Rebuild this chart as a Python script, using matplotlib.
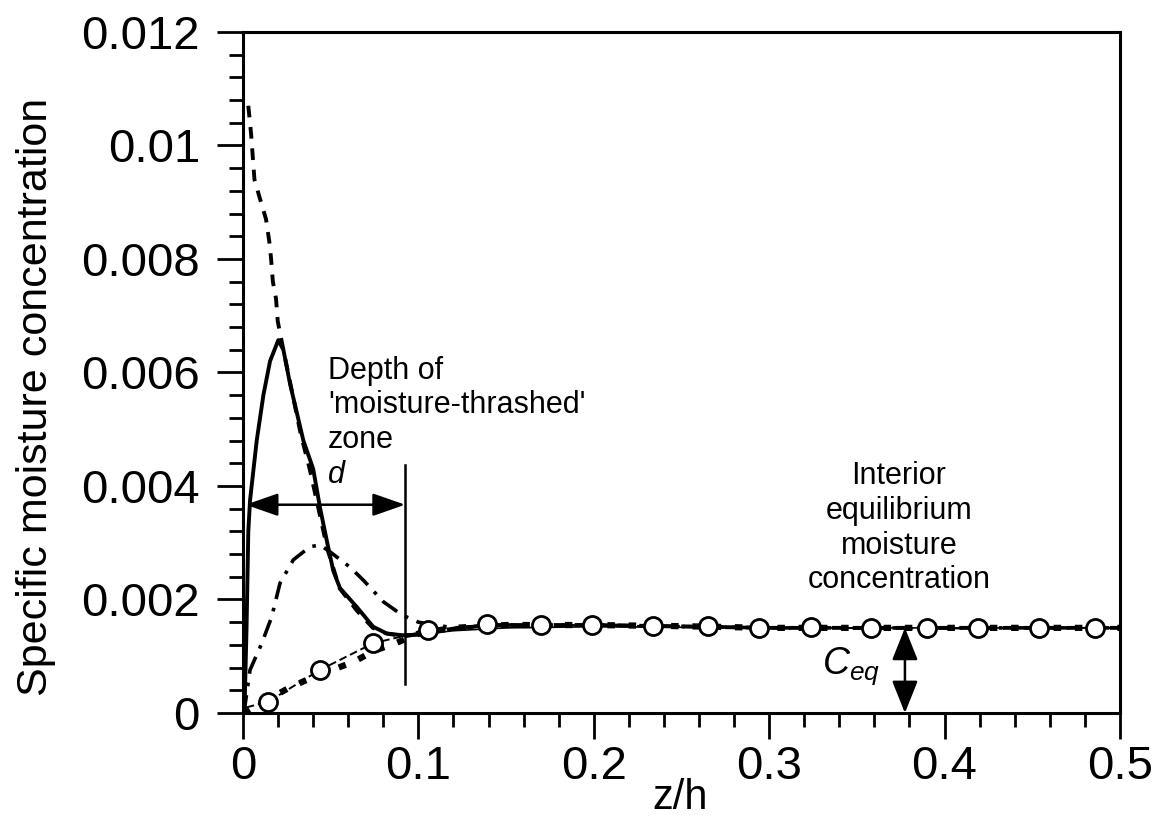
import numpy as np
import matplotlib
matplotlib.use("Agg")
import matplotlib.pyplot as plt

plt.rcParams['font.family'] = ['Liberation Sans', 'DejaVu Sans']
plt.rcParams['mathtext.fontset'] = 'custom'
plt.rcParams['mathtext.rm'] = 'Liberation Sans'
plt.rcParams['mathtext.it'] = 'Liberation Sans:italic'

# short-dashed curve (high near wall)
z_dash = [0.003, 0.0046, 0.0065, 0.0093, 0.0131, 0.015, 0.016, 0.017, 0.0188, 0.0198,
          0.0217, 0.025, 0.029, 0.033, 0.038, 0.043, 0.048, 0.055, 0.065, 0.074,
          0.082, 0.092, 0.11, 0.14, 0.2, 0.3, 0.4, 0.5]
c_dash = [0.0107, 0.0102, 0.0094, 0.0091, 0.0087, 0.0083, 0.0080, 0.0076, 0.0073, 0.0069,
          0.0066, 0.0061, 0.0055, 0.0049, 0.0043, 0.0036, 0.0029, 0.0022, 0.0018, 0.0015,
          0.0014, 0.00135, 0.00145, 0.00155, 0.00155, 0.0015, 0.0015, 0.0015]

# solid curve
z_solid = [0.0008, 0.002, 0.003, 0.004, 0.0078, 0.0116, 0.0154, 0.0201, 0.023, 0.0268,
           0.0306, 0.0344, 0.040, 0.044, 0.048, 0.0515, 0.0553, 0.0648, 0.0742, 0.082,
           0.091, 0.1, 0.12, 0.15, 0.2, 0.3, 0.4, 0.5]
c_solid = [0.0, 0.0015, 0.0032, 0.00375, 0.0048, 0.0056, 0.0062, 0.00657, 0.0064, 0.0058,
           0.0053, 0.0048, 0.0043, 0.0036, 0.0030, 0.0025, 0.0022, 0.00187, 0.00152, 0.0014,
           0.00137, 0.00138, 0.00145, 0.0015, 0.00152, 0.0015, 0.0015, 0.0015]

# dash-dot curve
z_dd = [0.0005, 0.004, 0.0107, 0.0163, 0.0211, 0.0287, 0.0382, 0.0439, 0.0496, 0.061,
        0.0686, 0.08, 0.0905, 0.1, 0.12, 0.15, 0.2, 0.3, 0.4, 0.5]
c_dd = [0.0, 0.00076, 0.00123, 0.00169, 0.00229, 0.0027, 0.00293, 0.00296, 0.00284, 0.00257,
        0.00234, 0.00196, 0.00173, 0.0016, 0.0015, 0.00155, 0.00155, 0.0015, 0.0015, 0.0015]

# open circles (first and last point are line ends only)
z_circ = [0.002, 0.0144, 0.0439, 0.0743, 0.1057, 0.139, 0.170, 0.199, 0.234, 0.265,
          0.294, 0.324, 0.358, 0.390, 0.419, 0.454, 0.486, 0.5]
c_circ = [0.0001, 0.0002, 0.00076, 0.00123, 0.00146, 0.00156, 0.00155, 0.00155, 0.00153, 0.00154,
          0.0015, 0.00151, 0.00149, 0.00149, 0.00149, 0.0015, 0.0015, 0.0015]

# filled squares (heavy dotted)
z_sq = [0.0, 0.005, 0.015, 0.026, 0.039, 0.05, 0.063, 0.075, 0.087, 0.1,
        0.12, 0.15, 0.2, 0.25, 0.3, 0.4, 0.5]
c_sq = [0.0, 0.0001, 0.00025, 0.00044, 0.00062, 0.00075, 0.0009, 0.0011, 0.00123, 0.0014,
        0.0015, 0.00155, 0.00155, 0.00153, 0.0015, 0.0015, 0.0015]

d_pos = 0.0924
d_arrow_y = 0.00367
ceq_x = 0.3774
ceq = 0.0015

xticks = [0, 0.1, 0.2, 0.3, 0.4, 0.5]
xlabels = ['0', '0.1', '0.2', '0.3', '0.4', '0.5']
yticks = [0, 0.002, 0.004, 0.006, 0.008, 0.01, 0.012]
ylabels = ['0', '0.002', '0.004', '0.006', '0.008', '0.01', '0.012']

fig = plt.figure(figsize=(11.59, 8.26), dpi=100)
ax = fig.add_axes([0.2097, 0.1368, 0.7566, 0.8245])

ax.plot(z_solid, c_solid, color='black', lw=1.2, zorder=2)
ax.plot(z_circ, c_circ, color='black', lw=1.4, linestyle=(0, (4, 2)), zorder=3)
ax.plot(z_sq, c_sq, color='black', lw=4.5, linestyle=(0, (1.2, 2.2)), zorder=3)
ax.plot(z_circ, c_circ, linestyle='none', marker='o', markersize=13,
        markerfacecolor='white', markeredgecolor='black', markeredgewidth=2.0,
        markevery=slice(1, -1), zorder=5)
ax.plot(z_dd, c_dd, color='black', lw=2.6, linestyle=(0, (5, 2.5, 1, 2.5)), zorder=3)
ax.plot(z_dash, c_dash, color='black', lw=2.8, linestyle=(0, (3, 2.5)), zorder=3)
ax.plot(z_solid[:22], c_solid[:22], color='black', lw=2.8, zorder=4)

# depth of moisture-thrashed zone
ax.plot([d_pos, d_pos], [0.00051, 0.00437], color='black', lw=1.8)
ax.annotate('', xy=(0.0015, d_arrow_y), xytext=(d_pos, d_arrow_y),
            arrowprops=dict(arrowstyle='<|-|>,head_length=1.0,head_width=0.35',
                            mutation_scale=20, color='black', lw=1.8,
                            shrinkA=0, shrinkB=0))
ax.text(0.0485, 0.00467, "Depth of\n'moisture-thrashed'\nzone", fontsize=22,
        ha='left', va='baseline')
ax.text(0.0485, 0.00405, 'd', fontsize=22, style='italic', ha='left', va='baseline')

# equilibrium concentration
ax.annotate('', xy=(ceq_x, 0.0), xytext=(ceq_x, ceq),
            arrowprops=dict(arrowstyle='<|-|>,head_length=1.0,head_width=0.4',
                            mutation_scale=20, color='black', lw=1.8,
                            shrinkA=0, shrinkB=0))
ax.text(0.374, 0.0022, 'Interior\nequilibrium\nmoisture\nconcentration', fontsize=22,
        ha='center', va='baseline')
ax.text(0.3632, 0.0007, r'$C_{eq}$', fontsize=27, ha='right', va='baseline')

ax.set_xlim(0, 0.5)
ax.set_ylim(0, 0.012)
ax.set_xticks(xticks)
ax.set_xticklabels(xlabels)
ax.set_yticks(yticks)
ax.set_yticklabels(ylabels)
ax.set_xticks(np.arange(0, 0.5001, 0.02), minor=True)
ax.set_yticks(np.arange(0, 0.01201, 0.0004), minor=True)
ax.tick_params(which='both', direction='out', top=False, right=False, width=2, labelsize=34)
ax.tick_params(which='major', length=19)
ax.tick_params(which='minor', length=10)
ax.tick_params(axis='x', pad=4)
ax.tick_params(axis='y', pad=12)
for s in ax.spines.values():
    s.set_linewidth(2.2)

ax.set_xlabel('z/h', fontsize=30)
ax.set_ylabel('Specific moisture concentration', fontsize=31)
ax.xaxis.set_label_coords(0.498, -0.095)
ax.yaxis.set_label_coords(-0.213, 0.464)

fig.savefig('out.png', dpi=100)
